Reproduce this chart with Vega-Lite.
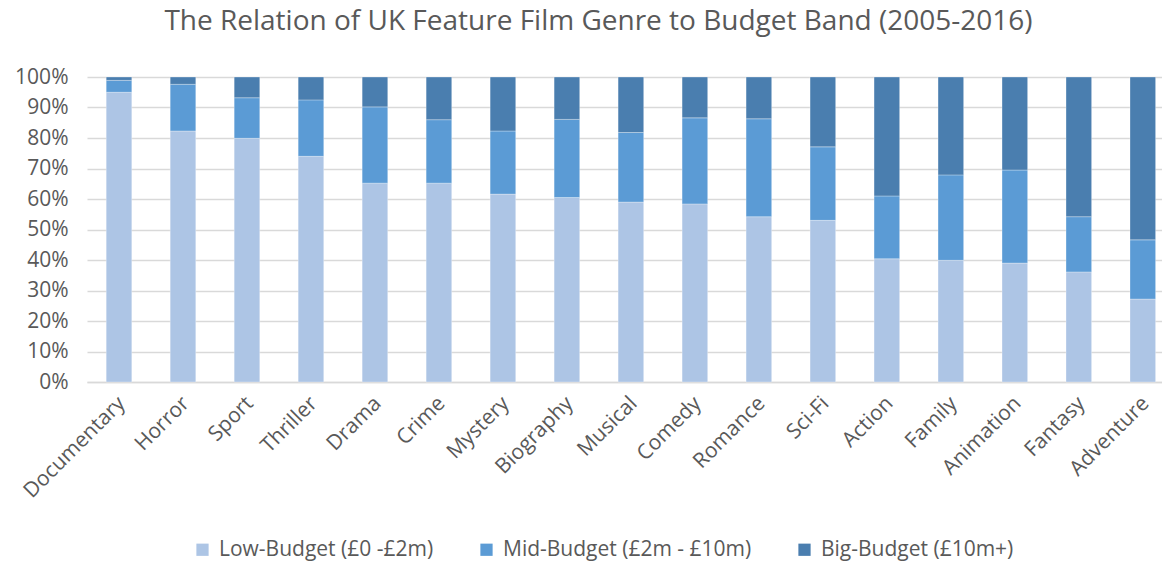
{
  "$schema": "https://vega.github.io/schema/vega-lite/v6.json",
  "width": 1075,
  "height": 305,
  "autosize": {"type": "none"},
  "padding": {"left": 87, "top": 77, "right": 0, "bottom": 180},
  "background": "white",
  "title": {
    "text": "The Relation of UK Feature Film Genre to Budget Band (2005-2016)",
    "font": "Open Sans",
    "fontSize": 28,
    "fontWeight": "normal",
    "color": "#595959",
    "anchor": "middle",
    "dx": -26,
    "offset": 30
  },
  "data": {
    "values": [
      {"genre": "Documentary", "band": "Low-Budget (£0 -£2m)", "k": 1, "pct": 95.0},
      {"genre": "Documentary", "band": "Mid-Budget (£2m - £10m)", "k": 2, "pct": 3.9},
      {"genre": "Documentary", "band": "Big-Budget (£10m+)", "k": 3, "pct": 1.1},
      {"genre": "Horror", "band": "Low-Budget (£0 -£2m)", "k": 1, "pct": 82.3},
      {"genre": "Horror", "band": "Mid-Budget (£2m - £10m)", "k": 2, "pct": 15.3},
      {"genre": "Horror", "band": "Big-Budget (£10m+)", "k": 3, "pct": 2.4},
      {"genre": "Sport", "band": "Low-Budget (£0 -£2m)", "k": 1, "pct": 79.9},
      {"genre": "Sport", "band": "Mid-Budget (£2m - £10m)", "k": 2, "pct": 13.3},
      {"genre": "Sport", "band": "Big-Budget (£10m+)", "k": 3, "pct": 6.8},
      {"genre": "Thriller", "band": "Low-Budget (£0 -£2m)", "k": 1, "pct": 74.0},
      {"genre": "Thriller", "band": "Mid-Budget (£2m - £10m)", "k": 2, "pct": 18.5},
      {"genre": "Thriller", "band": "Big-Budget (£10m+)", "k": 3, "pct": 7.5},
      {"genre": "Drama", "band": "Low-Budget (£0 -£2m)", "k": 1, "pct": 65.2},
      {"genre": "Drama", "band": "Mid-Budget (£2m - £10m)", "k": 2, "pct": 25.0},
      {"genre": "Drama", "band": "Big-Budget (£10m+)", "k": 3, "pct": 9.8},
      {"genre": "Crime", "band": "Low-Budget (£0 -£2m)", "k": 1, "pct": 65.2},
      {"genre": "Crime", "band": "Mid-Budget (£2m - £10m)", "k": 2, "pct": 20.8},
      {"genre": "Crime", "band": "Big-Budget (£10m+)", "k": 3, "pct": 14.0},
      {"genre": "Mystery", "band": "Low-Budget (£0 -£2m)", "k": 1, "pct": 61.6},
      {"genre": "Mystery", "band": "Mid-Budget (£2m - £10m)", "k": 2, "pct": 20.7},
      {"genre": "Mystery", "band": "Big-Budget (£10m+)", "k": 3, "pct": 17.7},
      {"genre": "Biography", "band": "Low-Budget (£0 -£2m)", "k": 1, "pct": 60.5},
      {"genre": "Biography", "band": "Mid-Budget (£2m - £10m)", "k": 2, "pct": 25.6},
      {"genre": "Biography", "band": "Big-Budget (£10m+)", "k": 3, "pct": 13.9},
      {"genre": "Musical", "band": "Low-Budget (£0 -£2m)", "k": 1, "pct": 59.0},
      {"genre": "Musical", "band": "Mid-Budget (£2m - £10m)", "k": 2, "pct": 22.8},
      {"genre": "Musical", "band": "Big-Budget (£10m+)", "k": 3, "pct": 18.2},
      {"genre": "Comedy", "band": "Low-Budget (£0 -£2m)", "k": 1, "pct": 58.4},
      {"genre": "Comedy", "band": "Mid-Budget (£2m - £10m)", "k": 2, "pct": 28.2},
      {"genre": "Comedy", "band": "Big-Budget (£10m+)", "k": 3, "pct": 13.4},
      {"genre": "Romance", "band": "Low-Budget (£0 -£2m)", "k": 1, "pct": 54.2},
      {"genre": "Romance", "band": "Mid-Budget (£2m - £10m)", "k": 2, "pct": 32.1},
      {"genre": "Romance", "band": "Big-Budget (£10m+)", "k": 3, "pct": 13.7},
      {"genre": "Sci-Fi", "band": "Low-Budget (£0 -£2m)", "k": 1, "pct": 53.0},
      {"genre": "Sci-Fi", "band": "Mid-Budget (£2m - £10m)", "k": 2, "pct": 24.1},
      {"genre": "Sci-Fi", "band": "Big-Budget (£10m+)", "k": 3, "pct": 22.9},
      {"genre": "Action", "band": "Low-Budget (£0 -£2m)", "k": 1, "pct": 40.4},
      {"genre": "Action", "band": "Mid-Budget (£2m - £10m)", "k": 2, "pct": 20.6},
      {"genre": "Action", "band": "Big-Budget (£10m+)", "k": 3, "pct": 39.0},
      {"genre": "Family", "band": "Low-Budget (£0 -£2m)", "k": 1, "pct": 39.9},
      {"genre": "Family", "band": "Mid-Budget (£2m - £10m)", "k": 2, "pct": 28.0},
      {"genre": "Family", "band": "Big-Budget (£10m+)", "k": 3, "pct": 32.1},
      {"genre": "Animation", "band": "Low-Budget (£0 -£2m)", "k": 1, "pct": 39.0},
      {"genre": "Animation", "band": "Mid-Budget (£2m - £10m)", "k": 2, "pct": 30.5},
      {"genre": "Animation", "band": "Big-Budget (£10m+)", "k": 3, "pct": 30.5},
      {"genre": "Fantasy", "band": "Low-Budget (£0 -£2m)", "k": 1, "pct": 36.1},
      {"genre": "Fantasy", "band": "Mid-Budget (£2m - £10m)", "k": 2, "pct": 18.1},
      {"genre": "Fantasy", "band": "Big-Budget (£10m+)", "k": 3, "pct": 45.8},
      {"genre": "Adventure", "band": "Low-Budget (£0 -£2m)", "k": 1, "pct": 27.2},
      {"genre": "Adventure", "band": "Mid-Budget (£2m - £10m)", "k": 2, "pct": 19.4},
      {"genre": "Adventure", "band": "Big-Budget (£10m+)", "k": 3, "pct": 53.4}
    ]
  },
  "mark": {"type": "bar", "stroke": "white", "strokeOpacity": 0.5, "strokeWidth": 0.6},
  "encoding": {
    "x": {
      "field": "genre",
      "type": "nominal",
      "sort": null,
      "scale": {"paddingInner": 0.6, "paddingOuter": 0.2, "align": 0.75},
      "axis": {
        "title": null,
        "labelAngle": -45,
        "labelAlign": "right",
        "labelBaseline": "middle",
        "labelFont": "Open Sans",
        "labelFontSize": 21,
        "labelColor": "#595959",
        "labelPadding": 18,
        "labelOffset": 3,
        "labelOverlap": false,
        "labelLimit": 0,
        "ticks": false,
        "domain": true,
        "domainColor": "#d9d9d9",
        "domainWidth": 1.5
      }
    },
    "y": {
      "field": "pct",
      "type": "quantitative",
      "stack": "normalize",
      "scale": {"domain": [0, 1]},
      "axis": {
        "title": null,
        "format": ".0%",
        "values": [0, 0.1, 0.2, 0.3, 0.4, 0.5, 0.6, 0.7, 0.8, 0.9, 1.0],
        "labelFont": "Open Sans",
        "labelFontSize": 21,
        "labelColor": "#595959",
        "labelPadding": 19,
        "ticks": false,
        "domain": false,
        "grid": true,
        "gridColor": "#d9d9d9",
        "gridWidth": 1.5
      }
    },
    "color": {
      "field": "band",
      "type": "nominal",
      "scale": {
        "domain": ["Low-Budget (£0 -£2m)", "Mid-Budget (£2m - £10m)", "Big-Budget (£10m+)"],
        "range": ["#adc5e5", "#5b9bd5", "#4a7eaf"]
      },
      "legend": {
        "title": null,
        "orient": "none",
        "direction": "horizontal",
        "legendX": 105,
        "legendY": 462,
        "symbolType": "square",
        "symbolSize": 150,
        "symbolStrokeWidth": 0,
        "labelFont": "Open Sans",
        "labelFontSize": 21,
        "labelColor": "#595959",
        "labelLimit": 0,
        "columnPadding": 42,
        "labelOffset": 6
      }
    },
    "order": {"field": "k", "type": "quantitative", "sort": "ascending"}
  },
  "config": {"view": {"stroke": null}}
}
